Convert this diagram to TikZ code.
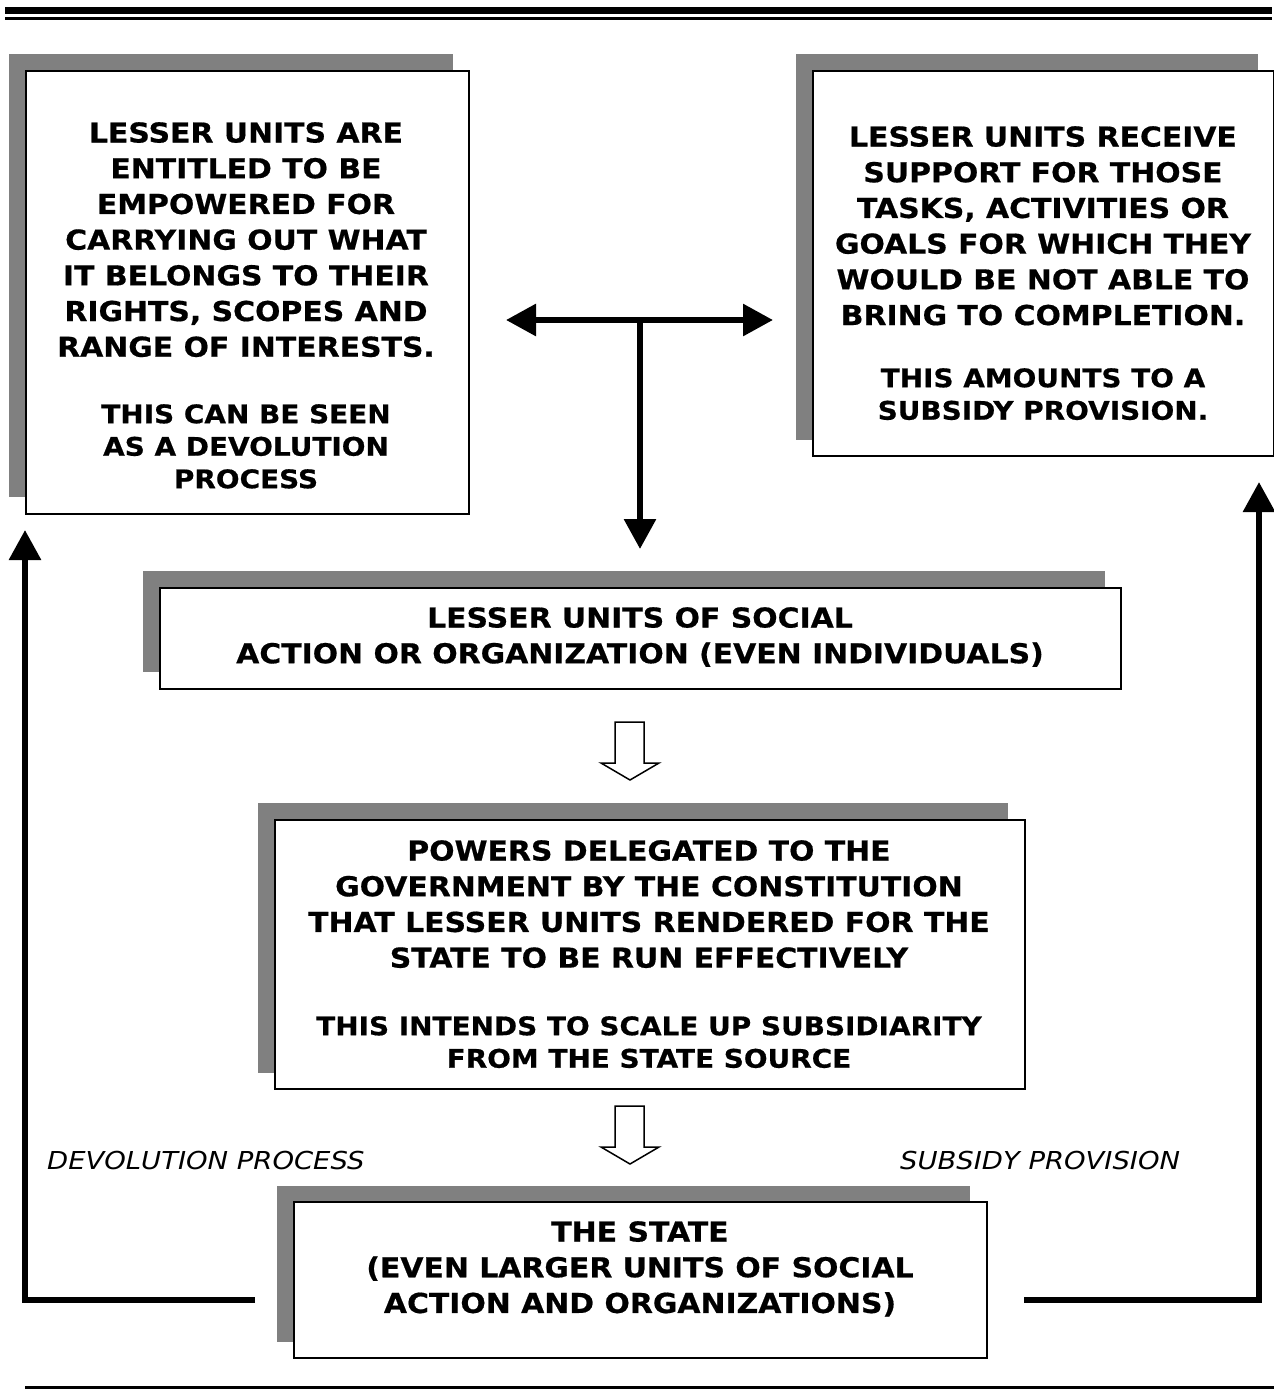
\documentclass[tikz,border=0pt]{standalone}
\usepackage{fontspec}
\setmainfont{DejaVu Sans}
\newfontfamily\boxfont{DejaVu Sans}[FakeStretch=1.09,FakeBold=0.6]
\newfontfamily\notefont{DejaVu Sans}[FakeStretch=1.11]
\usetikzlibrary{arrows.meta}
\definecolor{shade}{HTML}{808080}
\tikzset{
  shadowbox/.style={fill=shade, draw=none, inner sep=0pt, anchor=north west},
  framebox/.style={fill=white, draw=black, line width=1.8pt, inner sep=0pt, anchor=north west},
  maintext/.style={font=\boxfont\bfseries\fontsize{27.4}{35.7}\selectfont, align=center, inner sep=0pt, anchor=north},
  subtext/.style={font=\boxfont\bfseries\fontsize{25.6}{32.5}\selectfont, align=center, inner sep=0pt, anchor=north},
  sidelabel/.style={font=\notefont\itshape\fontsize{24.7}{30}\selectfont, inner sep=0pt, anchor=base west},
  conn/.style={line width=6pt, -{Triangle[length=30pt,width=31pt]}},
  hollow/.style={draw=black, fill=white, line width=1.5pt, line join=miter},
}
\begin{document}
\begin{tikzpicture}[x=1pt, y=-1pt]
\useasboundingbox (0,0) rectangle (1274,1393);

% rules above and below
\draw[line width=7pt] (5,10.8) -- (1272,10.8);
\draw[line width=3pt] (5,18.6) -- (1272,18.6);
\draw[line width=3.5pt] (25,1387.5) -- (1274,1387.5);

% upper left box
\node[shadowbox, minimum width=444pt, minimum height=443pt] (b1s) at (9,54) {};
\node[framebox, minimum width=443pt, minimum height=443pt] (b1) at (25,70) {};
\node[maintext] (b1t) at (246,122) {LESSER UNITS ARE\\ENTITLED TO BE\\EMPOWERED FOR\\CARRYING OUT WHAT\\IT BELONGS TO THEIR\\RIGHTS, SCOPES AND\\RANGE OF INTERESTS.};
\node[subtext] (b1u) at (246,404) {THIS CAN BE SEEN\\AS A DEVOLUTION\\PROCESS};

% upper right box
\node[shadowbox, minimum width=462pt, minimum height=386pt] (b2s) at (796,54) {};
\node[framebox, minimum width=461pt, minimum height=385pt] (b2) at (812,70) {};
\node[maintext] (b2t) at (1043,126) {LESSER UNITS RECEIVE\\SUPPORT FOR THOSE\\TASKS, ACTIVITIES OR\\GOALS FOR WHICH THEY\\WOULD BE NOT ABLE TO\\BRING TO COMPLETION.};
\node[subtext] (b2u) at (1043,368) {THIS AMOUNTS TO A\\SUBSIDY PROVISION.};

% lesser units
\node[shadowbox, minimum width=962pt, minimum height=101pt] (b3s) at (143,571) {};
\node[framebox, minimum width=961pt, minimum height=101pt] (b3) at (159,587) {};
\node[maintext] (b3t) at (640,607) {LESSER UNITS OF SOCIAL\\ACTION OR ORGANIZATION (EVEN INDIVIDUALS)};

% delegated powers
\node[shadowbox, minimum width=750pt, minimum height=270pt] (b4s) at (258,803) {};
\node[framebox, minimum width=750pt, minimum height=269pt] (b4) at (274,819) {};
\node[maintext] (b4t) at (649,840) {POWERS DELEGATED TO THE\\GOVERNMENT BY THE CONSTITUTION\\THAT LESSER UNITS RENDERED FOR THE\\STATE TO BE RUN EFFECTIVELY};
\node[subtext] (b4u) at (649,1016) {THIS INTENDS TO SCALE UP SUBSIDIARITY\\FROM THE STATE SOURCE};

% the state
\node[shadowbox, minimum width=693pt, minimum height=156pt] (b5s) at (277,1186) {};
\node[framebox, minimum width=693pt, minimum height=156pt] (b5) at (293,1201) {};
\node[maintext] (b5t) at (640,1221) {THE STATE\\(EVEN LARGER UNITS OF SOCIAL\\ACTION AND ORGANIZATIONS)};

% hollow down arrows between the stacked boxes
\coordinate (h1) at (615,722);
\coordinate (h2) at (615,1106);
\foreach \h in {h1,h2}
  \draw[hollow] (\h) -- ++(29,0) -- ++(0,41) -- ++(15,0) -- ++(-29,17) -- ++(-29,-17) -- ++(14,0) -- cycle;

% T-shaped connector
\coordinate (tj) at (640,320);
\coordinate (tl) at (506,320);
\coordinate (tr) at (773,320);
\coordinate (td) at (640,549);
\draw[conn] (tj) -- (tl);
\draw[conn] (tj) -- (tr);
\draw[conn] (tj) -- (td);

% return paths from the state
\coordinate (ls) at (255,1300);
\coordinate (lc) at (25,1300);
\coordinate (lt) at (25,530);
\coordinate (rs) at (1024,1300);
\coordinate (rc) at (1259,1300);
\coordinate (rt) at (1259,482);
\draw[conn, line join=miter] (ls) -- (lc) -- (lt);
\draw[conn, line join=miter] (rs) -- (rc) -- (rt);

% path labels
\node[sidelabel] (dl) at (47,1169) {DEVOLUTION PROCESS};
\node[sidelabel] (sl) at (900,1169) {SUBSIDY PROVISION};
\end{tikzpicture}
\end{document}
